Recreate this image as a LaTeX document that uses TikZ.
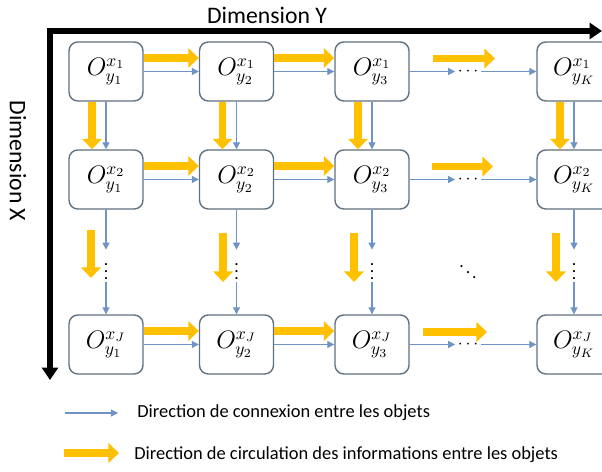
\documentclass[tikz,border=0pt]{standalone}
\usepackage{fontspec}
\setmainfont{Carlito}
\usetikzlibrary{arrows.meta,positioning,calc}
\definecolor{objedge}{HTML}{5F7080}
\definecolor{linkblue}{HTML}{6F93C4}
\definecolor{infoyellow}{HTML}{FFC000}

\begin{document}
\begin{tikzpicture}[x=0.02cm,y=-0.02cm,
    obj/.style={draw=objedge,line width=0.8pt,rounded corners=5pt,fill=white,minimum width=1.48cm,minimum height=1.18cm,inner sep=0pt,font=\fontsize{14.5}{16}\selectfont},
    link/.style={draw=linkblue,line width=0.6pt,-{Triangle[length=4pt,width=4pt]}},
    info/.style={draw=infoyellow,line width=4.5pt,-{Triangle[length=6pt,width=11pt]}},
    dimaxis/.style={line width=3pt,{Triangle[length=7pt,width=9pt]}-{Triangle[length=7pt,width=9pt]}},
    hdotnode/.style={inner sep=0pt,minimum width=0.5cm,minimum height=0.3cm},
    vdotnode/.style={inner sep=0pt,minimum width=0.3cm,minimum height=0.64cm},
    dimlabel/.style={font=\fontsize{13.5}{15}\selectfont},
    legtext/.style={font=\fontsize{10.5}{12}\selectfont,anchor=west,inner sep=0pt}
]
\useasboundingbox (0,0) rectangle (602,472);

% axes
\coordinate (ycorner) at (50,31);
\coordinate (yend) at (602,31);
\coordinate (xend) at (50,380);
\draw[dimaxis] (yend) -- (ycorner) -- (xend);
\node[dimlabel] (dimy) at (267,15) {Dimension Y};
\node[dimlabel,rotate=-90] (dimx) at (18,161) {Dimension X};

% objects
\foreach \row/\ry/\sx in {1/71.5/x_1,2/179.5/x_2,3/344.5/x_J}
  \foreach \col/\cx/\sy in {1/106/y_1,2/236.5/y_2,3/372/y_3,4/574/y_K}
    \node[obj] (o\row\col) at (\cx,\ry) {$O^{\sx}_{\sy}$};

% dots
\foreach \row/\ry in {1/71.5,2/179.5,3/344.5}
  \node[hdotnode] (h\row) at (468,\ry) {$\cdots$};
\foreach \col/\cx in {1/106,2/236.5,3/372,4/574}
  \node[vdotnode] (v\col) at (\cx,266) {$\vdots$};
\node (dd) at (468,267) {$\ddots$};

% connexions
\foreach \row in {1,2,3} {
  \draw[link] (o\row1) -- (o\row2);
  \draw[link] (o\row2) -- (o\row3);
  \draw[link] (o\row3) -- (h\row);
  \draw[link] (h\row) -- (o\row4);
  \draw[info] ([yshift=0.27cm]o\row1.east) -- ([yshift=0.27cm]o\row2.west);
  \draw[info] ([yshift=0.27cm]o\row2.east) -- ([yshift=0.27cm]o\row3.west);
}
\foreach \col in {1,...,4} {
  \draw[link] (o1\col) -- (o2\col);
  \draw[link] (o2\col) -- (v\col);
  \draw[link] (v\col) -- (o3\col);
  \draw[info] ([xshift=-0.28cm]o1\col.south) -- ([xshift=-0.28cm]o2\col.north);
}

% free information arrows
\foreach \row/\ry/\xa/\xb in {1/58.5/433/495,2/166.5/432/493,3/332/423/487} {
  \coordinate (fa\row) at (\xa,\ry);
  \coordinate (fb\row) at (\xb,\ry);
  \draw[info] (fa\row) -- (fb\row);
}
\foreach \col/\cx/\ya/\yb in {1/91/230/278,2/223/233/282,3/354/233/282,4/556/233/282} {
  \coordinate (ga\col) at (\cx,\ya);
  \coordinate (gb\col) at (\cx,\yb);
  \draw[info] (ga\col) -- (gb\col);
}

% legend
\coordinate (la) at (65,413);
\coordinate (lb) at (118,413);
\draw[link] (la) -- (lb);
\node[legtext] (lt1) at (137,413) {Direction de connexion entre les objets};
\coordinate (lc) at (64,453);
\coordinate (ld) at (119,453);
\draw[info] (lc) -- (ld);
\node[legtext] (lt2) at (134,455) {Direction de circulation des informations entre les objets};
\end{tikzpicture}
\end{document}
